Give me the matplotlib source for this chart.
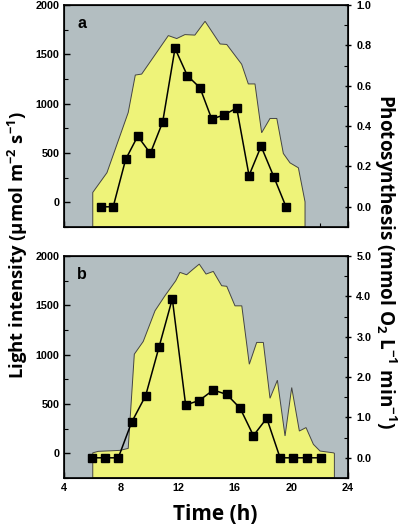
import matplotlib
matplotlib.use("Agg")
import matplotlib.pyplot as plt
from matplotlib.ticker import MultipleLocator

plt.rcParams['font.family'] = ['Liberation Sans', 'DejaVu Sans']
plt.rcParams['mathtext.fontset'] = 'custom'
plt.rcParams['mathtext.rm'] = 'Open Sans:bold'
plt.rcParams['mathtext.it'] = 'Open Sans:bold'
plt.rcParams['mathtext.bf'] = 'Open Sans:bold'

# panel a - light intensity (filled area) and photosynthesis (squares)
light_a_t = [6.0, 6.0, 7.0, 8.5, 9.0, 9.45, 11.33, 11.92, 12.5, 13.2, 13.92, 14.98,
             15.45, 16.5, 16.97, 17.44, 17.91, 18.5, 18.98, 19.44, 19.91, 20.5, 20.97, 20.97]
light_a_v = [-250, 100, 300, 910, 1290, 1300, 1690, 1660, 1700, 1695, 1835, 1605,
             1600, 1400, 1200, 1200, 705, 850, 850, 495, 400, 350, 5, -250]
photo_a_t = [6.55, 7.44, 8.32, 9.17, 10.06, 10.93, 11.8, 12.67, 13.56, 14.39,
             15.26, 16.15, 17.02, 17.87, 18.76, 19.63]
photo_a_v = [0.0, 0.0, 0.235, 0.35, 0.265, 0.42, 0.785, 0.65, 0.59, 0.435,
             0.455, 0.49, 0.155, 0.30, 0.15, 0.0]

# panel b
light_b_t = [6.0, 6.0, 6.39, 7.92, 8.5, 8.93, 9.56, 10.39, 11.09, 11.85, 12.15, 12.62,
             13.09, 13.51, 13.99, 14.5, 15.09, 15.45, 16.03, 16.51, 17.04, 17.56,
             18.03, 18.5, 19.02, 19.56, 20.03, 20.57, 21.04, 21.56, 22.03, 22.97,
             23.04, 23.04]
light_b_v = [-250, 5, 20, 30, 50, 1005, 1134, 1445, 1597, 1749, 1834, 1810,
             1868, 1918, 1817, 1844, 1699, 1693, 1495, 1495, 903, 1124,
             1124, 558, 741, 176, 667, 226, 261, 91, 23, 5,
             0, -250]
photo_b_t = [5.92, 6.86, 7.8, 8.74, 9.73, 10.67, 11.61, 12.55, 13.51, 14.5,
             15.45, 16.39, 17.33, 18.27, 19.21, 20.15, 21.09, 22.08]
photo_b_v = [0, 0, 0, 0.88, 1.54, 2.74, 3.94, 1.31, 1.42, 1.68,
             1.57, 1.23, 0.55, 0.98, 0, 0, 0, 0]

bg = '#b3bec1'
fill = '#eef379'

fig = plt.figure(figsize=(4.0, 5.27), dpi=100)
ax_a = fig.add_axes([0.161, 0.5693, 0.709, 0.4212])
ax_b = fig.add_axes([0.161, 0.093, 0.709, 0.4212])

panels = [
    (ax_a, light_a_t, light_a_v, photo_a_t, photo_a_v, (-0.1, 1.0), 0.2, 0.1, 'a'),
    (ax_b, light_b_t, light_b_v, photo_b_t, photo_b_v, (-0.5, 5.0), 1.0, 0.5, 'b'),
]

for ax, lt, lv, pt, pv, rlim, rmaj, rmin, tag in panels:
    ax.set_facecolor(bg)
    ax.fill(lt, lv, facecolor=fill, edgecolor='#444444', linewidth=0.7, zorder=2)
    ax.set_xlim(4, 24)
    ax.set_ylim(-250, 2000)
    ax.set_yticks([0, 500, 1000, 1500, 2000])
    ax.yaxis.set_minor_locator(MultipleLocator(250))
    ax.xaxis.set_major_locator(MultipleLocator(4))
    ax.xaxis.set_minor_locator(MultipleLocator(2))
    ax.tick_params(axis='both', which='both', direction='in', labelsize=7.8)
    ax.tick_params(axis='both', which='major', length=4, width=1)
    ax.tick_params(axis='both', which='minor', length=3, width=0.8)
    for lab in ax.get_yticklabels() + ax.get_xticklabels():
        lab.set_fontweight('bold')
    for s in ax.spines.values():
        s.set_linewidth(1.2)
    ax.text(0.045, 0.95, tag, transform=ax.transAxes, fontsize=11.5,
            fontweight='bold', va='top', ha='left', zorder=5)

    ax2 = ax.twinx()
    ax2.plot(pt, pv, color='black', linewidth=1.1, marker='s', markersize=6,
             markerfacecolor='black', zorder=4)
    ax2.set_ylim(*rlim)
    ax2.yaxis.set_minor_locator(MultipleLocator(rmin))
    ax2.set_yticks([rmaj * i for i in range(6) if rmaj * i <= rlim[1] + 1e-9])
    ax2.yaxis.set_major_formatter(plt.FormatStrFormatter('%.1f'))
    ax2.tick_params(axis='y', which='major', direction='inout', length=5, width=1, labelsize=7.8)
    ax2.tick_params(axis='y', which='minor', direction='in', length=3, width=0.8)
    for lab in ax2.get_yticklabels():
        lab.set_fontweight('bold')

ax_a.tick_params(axis='x', labelbottom=False)

fig.text(0.045, 0.535, r'Light intensity (μmol m$^{-2}$ s$^{-1}$)', rotation=90,
         ha='center', va='center', fontsize=13.3, family=['Open Sans', 'DejaVu Sans'],
         fontweight='bold')
fig.text(0.962, 0.503, r'Photosynthesis (mmol O$_{2}$ L$^{-1}$ min$^{-1}$)', rotation=270,
         ha='center', va='center', fontsize=13.6, family=['Open Sans', 'DejaVu Sans'],
         fontweight='bold')
fig.text(0.537, 0.023, 'Time (h)', ha='center', va='center', fontsize=15,
         family=['Open Sans', 'DejaVu Sans'], fontweight='bold')

fig.savefig('out.png', dpi=100)
